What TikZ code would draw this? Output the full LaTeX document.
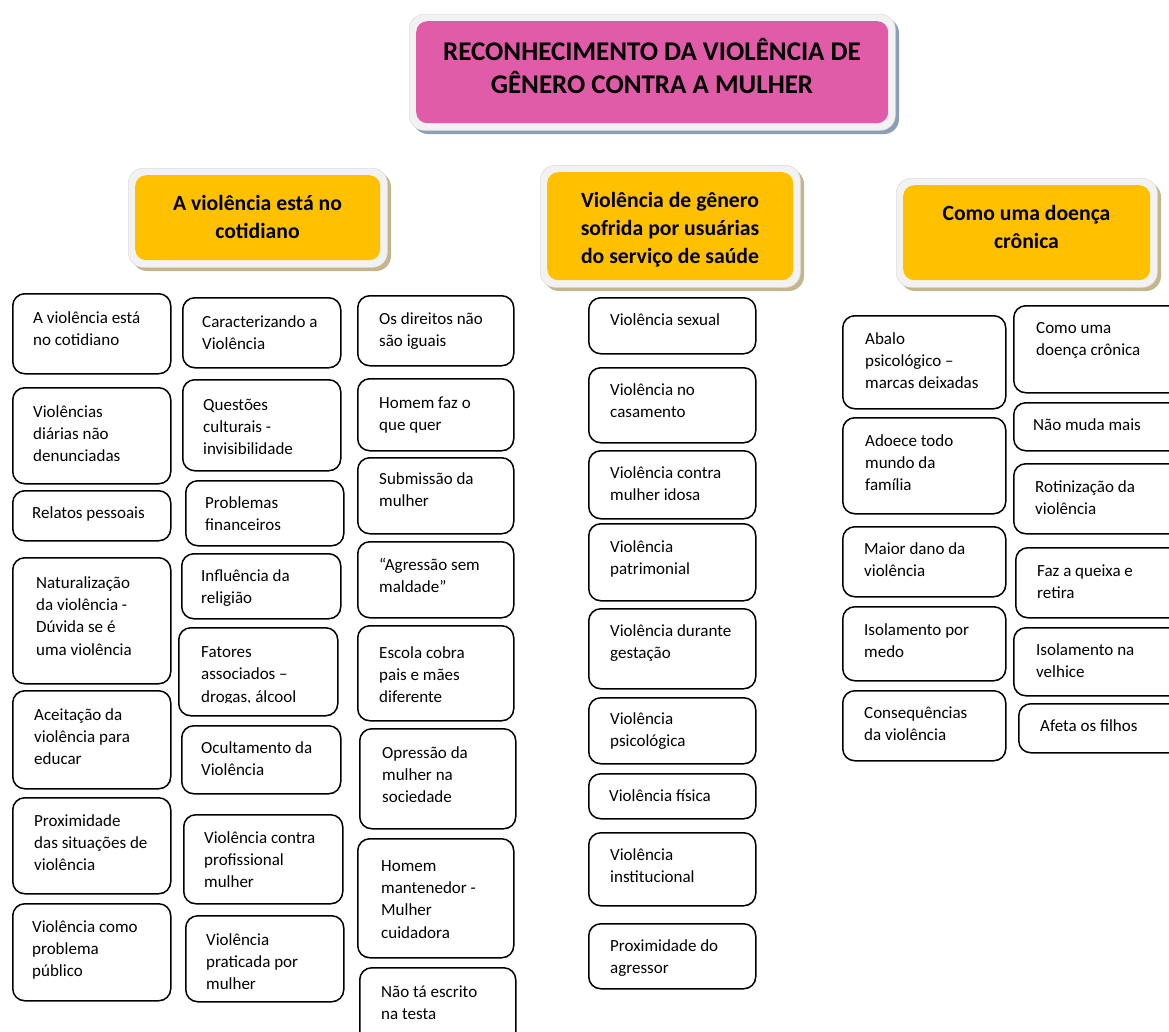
\documentclass[tikz,border=0pt]{standalone}
\usepackage{fontspec}
\setmainfont{Carlito}
\definecolor{pinkfill}{RGB}{224,92,168}
\definecolor{goldfill}{RGB}{255,192,0}
\definecolor{frameclr}{RGB}{242,242,242}
\definecolor{frameedge}{RGB}{222,222,222}
\definecolor{blueshadow}{RGB}{140,158,185}
\definecolor{tanshadow}{RGB}{196,182,140}
\tikzset{
  itembox/.style={draw=black, line width=1.5pt, rounded corners=12pt, fill=white, inner sep=0pt},
  itemtext/.style={inner sep=0pt, anchor=base west, font=\fontsize{17}{22.4}\selectfont},
  framebox/.style={fill=frameclr, draw=frameedge, line width=0.6pt, rounded corners=15pt, inner sep=0pt},
  titletext/.style={inner sep=0pt, anchor=base, font=\bfseries\fontsize{27}{33}\selectfont},
  headtext/.style={inner sep=0pt, anchor=base, font=\bfseries\fontsize{21.7}{28}\selectfont},
}
\newcommand\itm[8]{%
  \node[itembox, anchor=north west, minimum width={#4-#2}, minimum height={#5-#3}] (#1) at (#2,#3) {};
  \node[itemtext] (#1t) at (#6,#7) {\parbox[t]{190pt}{\raggedright #8}};
}
\newcommand\hdr[7]{%
  \fill[#3, rounded corners=15pt] (#4-3,#5-3) rectangle (#6+11,#7+11);
  \node[framebox, anchor=north west, minimum width={#6-#4+14}, minimum height={#7-#5+14}] (#1f) at (#4-7,#5-7) {};
  \node[fill=#2, rounded corners=11pt, anchor=north west, minimum width={#6-#4}, minimum height={#7-#5}, inner sep=0pt] (#1) at (#4,#5) {};
}
\begin{document}
\begin{tikzpicture}[x=1pt,y=-1pt]
\useasboundingbox (0,0) rectangle (1169,1031);
\fill[white] (0,0) rectangle (1169,1031);
\clip (0,0) rectangle (1169,1031);

% title
\hdr{title}{pinkfill}{blueshadow}{416}{21}{888}{123}
\node[titletext] (titlet) at (652,60) {\parbox[t]{480pt}{\centering RECONHECIMENTO DA VIOLÊNCIA DE\\GÊNERO CONTRA A MULHER}};

% headers
\hdr{hA}{goldfill}{tanshadow}{135}{175}{380}{260}
\node[headtext] (hAt) at (257.5,210) {\parbox[t]{240pt}{\centering A violência está no\\cotidiano}};
\hdr{hB}{goldfill}{tanshadow}{547}{172}{793}{280}
\node[headtext] (hBt) at (670,207) {\parbox[t]{240pt}{\centering Violência de gênero\\sofrida por usuárias\\do serviço de saúde}};
\hdr{hC}{goldfill}{tanshadow}{903}{185}{1150}{280}
\node[headtext] (hCt) at (1026.5,220) {\parbox[t]{240pt}{\centering Como uma doença\\crônica}};

% column 1
\itm{a1}{12}{293}{170}{373}{33}{323}{A violência está\\no cotidiano}
\itm{a2}{12}{387}{170}{483}{33}{417}{Violências\\diárias não\\denunciadas}
\itm{a3}{12}{490}{170}{540}{32}{518}{Relatos pessoais}
\itm{a4}{12}{557}{170}{683}{36}{588}{Naturalização\\da violência -\\Dúvida se é\\uma violência}
\itm{a5}{12}{690}{170}{788}{34}{720}{Aceitação da\\violência para\\educar}
\itm{a6}{12}{797}{170}{893}{34}{826}{Proximidade\\das situações de\\violência}
\itm{a7}{12}{903}{170}{1000}{32}{932}{Violência como\\problema\\público}

% column 2
\itm{b1}{182}{297}{340}{367}{202}{327}{Caracterizando a\\Violência}
\itm{b2}{182}{379}{340}{470}{203}{410}{Questões\\culturais -\\invisibilidade}
\itm{b3}{185}{480}{343}{545}{205}{508}{Problemas\\financeiros}
\itm{b4}{181}{553}{340}{618}{201}{581}{Influência da\\religião}
\node[itembox, anchor=north west, minimum width=159, minimum height=88] (b5) at (178,627) {};
\begin{scope}
\clip (178,627) rectangle (337,702);
\node[itemtext] (b5t) at (201,657.5) {\parbox[t]{190pt}{\raggedright Fatores\\associados –\\drogas, álcool}};
\end{scope}
\itm{b6}{181}{725}{340}{793}{201}{753}{Ocultamento da\\Violência}
\itm{b7}{183}{814}{342}{903}{204}{843}{Violência contra\\profissional\\mulher}
\itm{b8}{185}{915}{343}{1001}{206}{945}{Violência\\praticada por\\mulher}

% column 3
\itm{c1}{357}{295}{513}{365}{379}{324}{Os direitos não\\são iguais}
\itm{c2}{357}{378}{513}{450}{379}{408}{Homem faz o\\que quer}
\itm{c3}{357}{457}{513}{533}{379}{484}{Submissão da\\mulher}
\itm{c4}{357}{541}{513}{617}{379}{570}{“Agressão sem\\maldade”}
\itm{c5}{357}{625}{513}{720}{379}{658}{Escola cobra\\pais e mães\\diferente}
\itm{c6}{359}{728}{515}{828}{382}{758}{Opressão da\\mulher na\\sociedade}
\itm{c7}{357}{838}{513}{957}{381}{871}{Homem\\mantenedor -\\Mulher\\cuidadora}
\itm{c8}{359}{967}{515}{1050}{381}{997}{Não tá escrito\\na testa}

% column 4
\itm{d1}{588}{297}{755}{353}{610}{325}{Violência sexual}
\itm{d2}{588}{367}{755}{442}{610}{395}{Violência no\\casamento}
\itm{d3}{588}{450}{755}{518}{610}{478}{Violência contra\\mulher idosa}
\itm{d4}{588}{523}{755}{600}{610}{552}{Violência\\patrimonial}
\itm{d5}{588}{608}{755}{688}{610}{636}{Violência durante\\gestação}
\itm{d6}{588}{697}{755}{763}{610}{724}{Violência\\psicológica}
\itm{d7}{588}{773}{755}{818}{609}{801}{Violência física}
\itm{d8}{588}{832}{755}{905}{610}{860}{Violência\\institucional}
\itm{d9}{588}{923}{755}{988}{610}{951}{Proximidade do\\agressor}

% column 5
\itm{e1}{842}{315}{1005}{408}{865}{344}{Abalo\\psicológico –\\marcas deixadas}
\itm{e2}{842}{417}{1005}{513}{865}{446}{Adoece todo\\mundo da\\família}
\itm{e3}{842}{526}{1005}{596}{864}{554}{Maior dano da\\violência}
\itm{e4}{842}{606}{1005}{680}{864}{635}{Isolamento por\\medo}
\itm{e5}{842}{690}{1005}{760}{864}{718}{Consequências\\da violência}

% column 6
\itm{f1}{1013}{305}{1185}{392}{1036}{333}{Como uma\\doença crônica}
\itm{f2}{1013}{402}{1185}{450}{1033}{430}{Não muda mais}
\itm{f3}{1013}{463}{1185}{533}{1035}{492}{Rotinização da\\violência}
\itm{f4}{1015}{547}{1185}{617}{1037}{576}{Faz a queixa e\\retira}
\itm{f5}{1013}{627}{1185}{695}{1036}{655}{Isolamento na\\velhice}
\itm{f6}{1018}{703}{1185}{752}{1040}{731}{Afeta os filhos}
\end{tikzpicture}
\end{document}
